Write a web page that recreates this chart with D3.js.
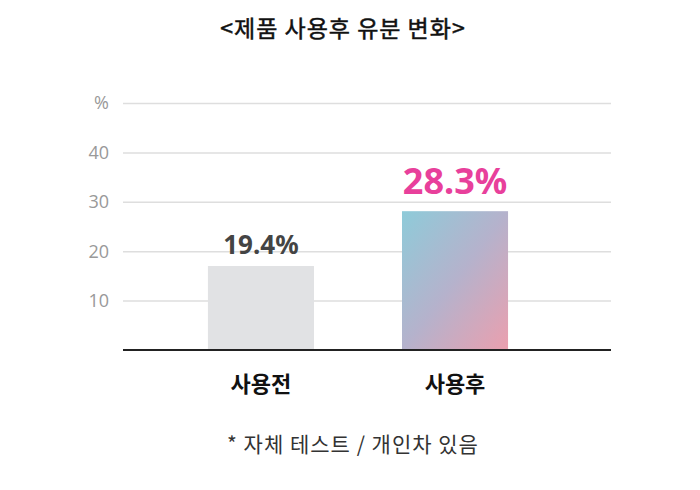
<!DOCTYPE html>
<html>
<head>
<meta charset="utf-8">
<script src="https://cdn.jsdelivr.net/npm/d3@7"></script>
<style>
  body { margin: 0; background: #fff; }
  text { font-family: "Noto Sans CJK KR", "Noto Sans", sans-serif; }
</style>
</head>
<body>
<div id="chart"></div>
<script>
// data
var categories = ["사용전", "사용후"];
var barValues = [17, 28.1];          // drawn bar heights (axis units)
var valueLabels = ["19.4%", "28.3%"];
var tickValues = [10, 20, 30, 40, 50];
var tickLabels = ["10", "20", "30", "40", "%"];

var W = 700, H = 490;
var margin = {top: 103, right: 89, bottom: 140, left: 123},
    width = W - margin.left - margin.right,
    height = H - margin.top - margin.bottom;

var svg = d3.select("#chart")
  .append("svg")
    .attr("width", W)
    .attr("height", H);

// gradient for the "after" bar
var defs = svg.append("defs");
var grad = defs.append("linearGradient")
    .attr("id", "afterGrad")
    .attr("x1", "0%").attr("y1", "0%")
    .attr("x2", "100%").attr("y2", "100%");
grad.append("stop").attr("offset", "0%").attr("stop-color", "#8ecbd9");
grad.append("stop").attr("offset", "50%").attr("stop-color", "#b5b2cc");
grad.append("stop").attr("offset", "100%").attr("stop-color", "#eb9fae");

// title
svg.append("text")
  .attr("x", 343)
  .attr("y", 37)
  .attr("text-anchor", "middle")
  .style("font-size", "23px")
  .style("font-weight", 400)
  .style("letter-spacing", "1px")
  .style("fill", "#111")
  .style("stroke", "#111")
  .style("stroke-width", 0.5)
  .text("<제품 사용후 유분 변화>");

var g = svg.append("g")
  .attr("transform", "translate(" + margin.left + "," + margin.top + ")");

var x = d3.scaleBand()
  .domain(categories)
  .range([0, width])
  .paddingInner(0.4536)
  .paddingOuter(0.484)
  .align(0.452);

var y = d3.scaleLinear()
  .domain([0, 50])
  .range([height, 0]);

// gridlines
g.append("g")
  .call(d3.axisLeft(y).tickValues(tickValues).tickSize(-width).tickFormat(""))
  .call(function(s) { s.select(".domain").remove(); })
  .selectAll("line")
    .attr("stroke", "#dedede")
    .attr("stroke-width", 1.5);

// tick labels
g.append("g")
  .selectAll("text")
  .data(tickValues)
  .enter()
  .append("text")
    .attr("x", -14)
    .attr("y", function(d) { return y(d); })
    .attr("dy", "0.35em")
    .attr("text-anchor", "end")
    .style("font-family", "'Open Sans', 'Noto Sans', sans-serif")
    .style("font-size", "18px")
    .style("fill", "#999")
    .text(function(d, i) { return tickLabels[i]; });

// bars
g.selectAll("rect.bar")
  .data(barValues)
  .enter()
  .append("rect")
    .attr("class", "bar")
    .attr("x", function(d, i) { return x(categories[i]); })
    .attr("width", x.bandwidth())
    .attr("y", function(d) { return y(d); })
    .attr("height", function(d) { return height - y(d); })
    .attr("fill", function(d, i) { return i === 0 ? "#e1e2e4" : "url(#afterGrad)"; });

// baseline
g.append("line")
  .attr("x1", 0).attr("x2", width)
  .attr("y1", height).attr("y2", height)
  .attr("stroke", "#222")
  .attr("stroke-width", 1.8);

// value labels
g.selectAll("text.val")
  .data(barValues)
  .enter()
  .append("text")
    .attr("class", "val")
    .attr("x", function(d, i) { return x(categories[i]) + x.bandwidth() / 2; })
    .attr("y", function(d, i) { return y(d) - (i === 0 ? 12 : 17); })
    .attr("text-anchor", "middle")
    .style("font-family", "'Noto Sans', sans-serif")
    .style("font-weight", "bold")
    .style("font-size", function(d, i) { return i === 0 ? "26px" : "36px"; })
    .style("fill", function(d, i) { return i === 0 ? "#444" : "#e8409b"; })
    .text(function(d, i) { return valueLabels[i]; });

// category labels
g.selectAll("text.cat")
  .data(categories)
  .enter()
  .append("text")
    .attr("class", "cat")
    .attr("x", function(d) { return x(d) + x.bandwidth() / 2; })
    .attr("y", height + 42)
    .attr("text-anchor", "middle")
    .style("font-size", "22px")
    .style("font-weight", "bold")
    .style("fill", "#111")
    .text(function(d) { return d; });

// footnote
svg.append("text")
  .attr("x", 353)
  .attr("y", 452)
  .attr("text-anchor", "middle")
  .style("font-size", "21px")
  .style("letter-spacing", "1px")
  .style("fill", "#333")
  .text("* 자체 테스트 / 개인차 있음");
</script>
</body>
</html>
